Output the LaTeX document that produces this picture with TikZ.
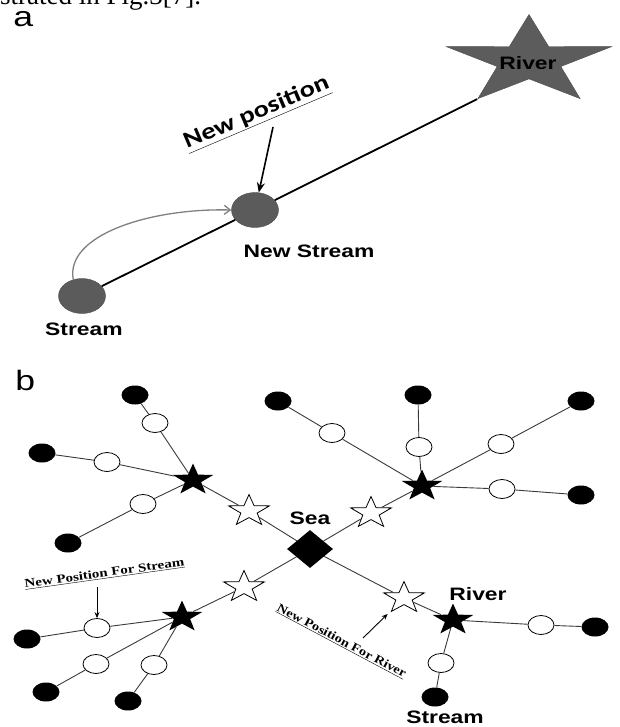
\documentclass[tikz,border=0pt]{standalone}
\usepackage{fontspec}
\setmainfont{Liberation Serif}
\newfontfamily\arialfont{Liberation Sans}
\newfontfamily\calfont{Carlito}
\usetikzlibrary{arrows.meta,shapes.geometric}
\definecolor{dotgray}{HTML}{5B5B5B}
\definecolor{stargray}{HTML}{5C5C5C}
\definecolor{curvegray}{HTML}{808080}
\definecolor{edgegray}{HTML}{3A3A3A}

\begin{document}
\begin{tikzpicture}[
  x=1pt,y=-1pt,
  lbl/.style={font=\arialfont\bfseries\fontsize{18}{18}\selectfont,inner sep=0,xscale=1.27},
  panel/.style={font=\arialfont\fontsize{28}{28}\selectfont,inner sep=0,anchor=base west,xscale=1.27},
  note/.style={font=\bfseries\fontsize{12}{12}\selectfont,inner sep=0,anchor=base west},
  dot/.style={ellipse,minimum width=47pt,minimum height=35pt,inner sep=0,fill=dotgray,draw=black!70},
  bigstar/.style={star,star points=5,star point ratio=2.6,minimum size=93pt,inner sep=0,xscale=1.87,fill=stargray,draw=black!70},
  blk/.style={ellipse,minimum width=27pt,minimum height=19pt,inner sep=0,fill=black},
  wht/.style={ellipse,minimum width=26pt,minimum height=19pt,inner sep=0,fill=white,draw=black,line width=0.8pt},
  bstar/.style={star,star points=5,star point ratio=2.5,minimum size=33pt,inner sep=0,xscale=1.3,fill=black},
  wstar/.style={bstar,fill=white,draw=black,line width=0.8pt},
  sea/.style={diamond,minimum width=46pt,minimum height=38pt,inner sep=0,fill=black},
  link/.style={line width=1.8pt},
  edge/.style={line width=0.9pt,draw=edgegray},
  pointer/.style={-{Stealth[length=10pt,width=8pt]},line width=1.6pt},
  smallpointer/.style={-{Stealth[length=6pt,width=5pt]},line width=0.9pt},
  curve/.style={-{Straight Barb[length=6pt,width=9pt]},line width=1.3pt,draw=curvegray}
]
\useasboundingbox (0,0) rectangle (619,727);
\node[anchor=base west,inner sep=0,font=\fontsize{27}{27}\selectfont] (cap) at (0,5) {strated in Fig.3[7].};
\node[panel] (pa) at (13,27) {a};
\node[panel] (pb) at (15,390) {b};

\node[bigstar] (river) at (529,61) {};
\node[lbl] (riverlbl) at (528,63) {River};
\node[dot] (stream) at (82,296) {};
\node[dot] (newstream) at (255,210) {};
\node[lbl] (streamlbl) at (84,329) {Stream};
\node[lbl] (newlbl) at (309,251) {New Stream};
\node[anchor=base west,inner sep=0,rotate=23,xscale=1.23,font=\calfont\bfseries\fontsize{23}{23}\selectfont] (newpos) at (187,149) {\underline{New position}};
\coordinate (np) at (273,127);
\draw[link] (stream)--(newstream)--(river.outer point 3);
\draw[pointer] (np)--(newstream);
\draw[curve] (stream.118) .. controls (65,235) and (150,208) .. (newstream.west);

\node[sea] (s) at (310,549) {};
\node[lbl] (sealbl) at (310,518) {Sea};
\node[wstar] (wsUL) at (249,511) {};
\node[wstar] (wsUR) at (371,513) {};
\node[wstar] (wsLL) at (244,587) {};
\node[wstar] (wsLR) at (404,598) {};
\node[bstar] (bsUL) at (193,480) {};
\node[bstar] (bsUR) at (422,486) {};
\node[bstar] (bsLL) at (182,617) {};
\node[bstar] (bsLR) at (453,620) {};
\node[wht] (w1) at (155,423) {};
\node[blk] (b1) at (135,395) {};
\node[wht] (w2) at (107,462) {};
\node[blk] (b2) at (42,453) {};
\node[wht] (w3) at (143,504) {};
\node[blk] (b3) at (68,543) {};
\node[wht] (w4) at (332,433) {};
\node[blk] (b4) at (278,401) {};
\node[wht] (w5) at (419,447) {};
\node[blk] (b5) at (418,395) {};
\node[wht] (w6) at (501,444) {};
\node[blk] (b6) at (581,401) {};
\node[wht] (w7) at (502,489) {};
\node[blk] (b7) at (581,495) {};
\node[wht] (w8) at (97,628) {};
\node[blk] (b8) at (27,639) {};
\node[wht] (w9) at (96,664) {};
\node[blk] (b9) at (46,692) {};
\node[wht] (w10) at (154,665) {};
\node[blk] (b10) at (128,701) {};
\node[wht] (w11) at (541,625) {};
\node[blk] (b11) at (595,627) {};
\node[wht] (w12) at (441,663) {};
\node[blk] (b12) at (435,697) {};
\foreach \a/\b in {wsUL/bsUL,wsUR/bsUR,wsLL/bsLL,wsLR/bsLR} \draw[edge] (s)--(\a)--(\b);
\foreach \a/\b/\c in {bsUL/w1/b1,bsUL/w2/b2,bsUL/w3/b3,bsUR/w4/b4,bsUR/w5/b5,bsUR/w6/b6,bsUR/w7/b7,bsLL/w8/b8,bsLL/w9/b9,bsLL/w10/b10,bsLR/w11/b11,bsLR/w12/b12} \draw[edge] (\a)--(\b)--(\c);
\node[lbl] (rlbl) at (478,594) {River};
\node[lbl] (slbl) at (445,717) {Stream};
\node[note,rotate=8,xscale=1.25] (nps) at (25,588) {\underline{New Position For Stream}};
\node[note,rotate=-28,xscale=1.2] (npr) at (276,610) {\underline{New Position For River}};
\coordinate (nsa) at (97,587);
\coordinate (nra) at (363,638);
\draw[smallpointer] (nsa)--(w8);
\draw[smallpointer,shorten >=5pt] (nra)--(wsLR);
\end{tikzpicture}
\end{document}
